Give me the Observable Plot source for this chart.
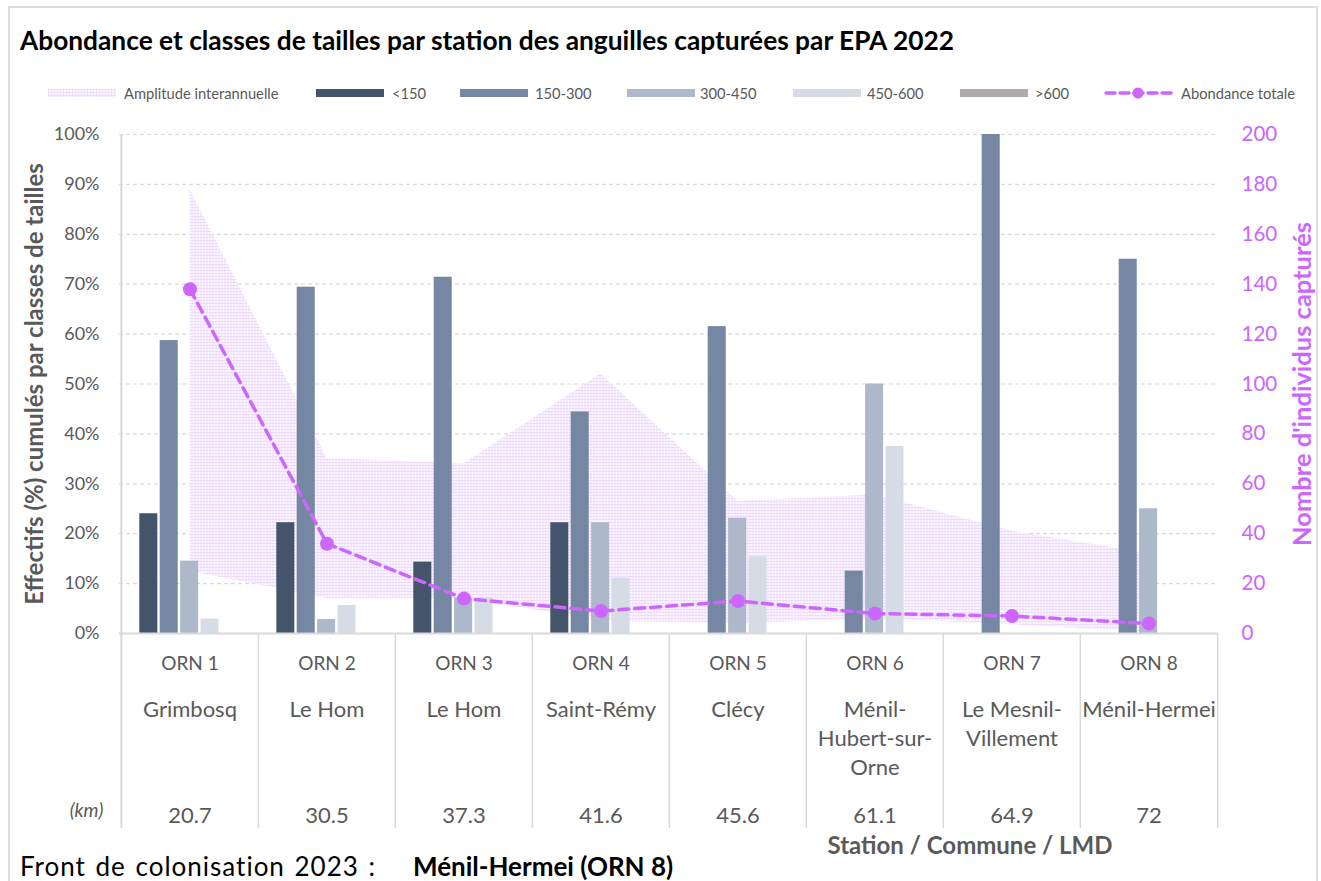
<!DOCTYPE html>
<html>
<head>
<meta charset="utf-8">
<script src="https://cdn.jsdelivr.net/npm/d3@7"></script>
<script src="https://cdn.jsdelivr.net/npm/@observablehq/plot@0.6"></script>
<style>
  body { margin: 0; background: #fff; font-family: Lato, "Open Sans", sans-serif; }
  #wrap { position: relative; width: 1321px; height: 881px; overflow: hidden; background: #fff; }
  #frame { position: absolute; left: 8px; top: 6px; width: 1310px; height: 900px; border: 2px solid #dedede; box-sizing: border-box; }
  .abs { position: absolute; white-space: nowrap; line-height: 1; }
  #title { left: 20px; top: 40px; transform: translateY(-50%); font-size: 26.3px; font-weight: 700; color: #000; }
  .lg { top: 93px; transform: translateY(-50%); font-size: 14.7px; color: #595959; }
  .sw { top: 89px; height: 8px; }
  #chart { position: absolute; left: 0; top: 120px; }
  #xtitle { left: 970px; top: 845px; transform: translate(-50%, -50%); font-size: 24px; font-weight: 700; color: #595959; }
  .foot { top: 866px; transform: translateY(-50%); font-size: 26px; color: #000; }
</style>
</head>
<body>
<div id="wrap">
  <div id="frame"></div>
  <div id="title" class="abs">Abondance et classes de tailles par station des anguilles capturées par EPA 2022</div>

  <svg class="abs sw" style="left:48px;width:68px;" width="68" height="8"><defs><pattern id="lgpat" width="3" height="3" patternUnits="userSpaceOnUse"><rect width="3" height="3" fill="#fdfaff"/><path d="M0 0.5H3M0.5 0V3" stroke="#eedbfd" stroke-width="1"/></pattern></defs><rect width="68" height="8" fill="url(#lgpat)"/></svg>
  <div class="abs lg" style="left:124px;">Amplitude interannuelle</div>
  <div class="abs sw" style="left:316px;width:68px;background:#44546A;"></div>
  <div class="abs lg" style="left:392px;">&lt;150</div>
  <div class="abs sw" style="left:460px;width:68px;background:#7587A2;"></div>
  <div class="abs lg" style="left:535px;">150-300</div>
  <div class="abs sw" style="left:627px;width:68px;background:#ADB9CA;"></div>
  <div class="abs lg" style="left:700px;">300-450</div>
  <div class="abs sw" style="left:793px;width:68px;background:#D6DCE5;"></div>
  <div class="abs lg" style="left:867px;">450-600</div>
  <div class="abs sw" style="left:960px;width:68px;background:#AEAAAA;"></div>
  <div class="abs lg" style="left:1035px;">&gt;600</div>
  <svg class="abs" style="left:1104px;top:86px;" width="72" height="14"><line x1="2" y1="7" x2="70" y2="7" stroke="#CC66FF" stroke-width="3.5" stroke-dasharray="9 5" stroke-linecap="round"/><circle cx="34" cy="7" r="5.5" fill="#CC66FF"/></svg>
  <div class="abs lg" style="left:1181px;">Abondance totale</div>

  <div id="chart"></div>

  <div id="xtitle" class="abs">Station / Commune / LMD</div>
  <div class="abs foot" style="left:20px;letter-spacing:1px;word-spacing:2px;">Front de colonisation 2023 :</div>
  <div class="abs foot" style="left:413px;font-weight:700;">Ménil-Hermei (ORN 8)</div>
</div>

<script>
// ---------- DATA ----------
const stations = ["ORN 1", "ORN 2", "ORN 3", "ORN 4", "ORN 5", "ORN 6", "ORN 7", "ORN 8"];
const communes = ["Grimbosq", "Le Hom", "Le Hom", "Saint-Rémy", "Clécy", "Ménil-\nHubert-sur-\nOrne", "Le Mesnil-\nVillement", "Ménil-Hermei"];
const lmdKm = ["20.7", "30.5", "37.3", "41.6", "45.6", "61.1", "64.9", "72"];

const sizeClasses = ["<150", "150-300", "300-450", "450-600", ">600"];
const pctLt150   = [24.0, 22.2, 14.3, 22.2, 0, 0, 0, 0];
const pct150_300 = [58.7, 69.4, 71.4, 44.4, 61.5, 12.5, 100, 75];
const pct300_450 = [14.5, 2.8, 7.1, 22.2, 23.1, 50, 0, 25];
const pct450_600 = [2.9, 5.6, 7.1, 11.1, 15.4, 37.5, 0, 0];
const pctGt600   = [0, 0, 0, 0, 0, 0, 0, 0];

const abondanceTotale = [138, 36, 14, 9, 13, 8, 7, 4];
const amplitudeMin = [25, 14, 14, 5, 4, 6, 3.5, 0.5];
const amplitudeMax = [178, 70, 68, 104, 53, 55.5, 41, 32];

const yTicksPct = [0, 10, 20, 30, 40, 50, 60, 70, 80, 90, 100];
const classColors = ["#44546A", "#7587A2", "#ADB9CA", "#D6DCE5", "#AEAAAA"];
const violet = "#CC66FF";

// ---------- LAYOUT ----------
const W = 1321, H = 711, mL = 119, mR = 103, mT = 14, mB = 198;
const bw = (W - mL - mR) / stations.length;
const plotH = H - mT - mB;

const series = [pctLt150, pct150_300, pct300_450, pct450_600, pctGt600];
const barMarks = series.map((vals, i) => {
  const data = stations.map((s, j) => ({station: s, cls: sizeClasses[i], v: vals[j]})).filter(d => d.v > 0);
  const left = 18.3 + 20.4 * i;
  return Plot.barY(data, {
    x: "station", y: "v", fill: classColors[i],
    insetLeft: left, insetRight: bw - left - 18.4
  });
});

const ampData = stations.map((s, j) => ({station: s, lo: amplitudeMin[j], hi: amplitudeMax[j]}));
const abData = stations.map((s, j) => ({station: s, n: abondanceTotale[j]}));
const communeData = stations.map((s, j) => ({station: s, t: communes[j]}));
const kmData = stations.map((s, j) => ({station: s, t: lmdKm[j]}));

const chart = Plot.plot({
  width: W, height: H,
  marginLeft: mL, marginRight: mR, marginTop: mT, marginBottom: mB,
  style: {fontFamily: "Lato, 'Open Sans', sans-serif", background: "transparent", overflow: "visible"},
  x: {type: "band", domain: stations, padding: 0, axis: null},
  y: {domain: [0, 100], axis: null, label: null},
  marks: [
    Plot.gridY(yTicksPct.slice(1), {stroke: "#d9d9d9", strokeOpacity: 1, strokeWidth: 1.2, strokeDasharray: "4 3"}),
    Plot.areaY(ampData, {x: "station", y1: d => d.lo / 2, y2: d => d.hi / 2, fill: "url(#ampPattern)"}),
    ...barMarks,
    Plot.ruleY([0], {stroke: "#d9d9d9", strokeWidth: 2}),
    Plot.ruleX([stations[0]], {dx: -bw / 2, stroke: "#d9d9d9", strokeWidth: 2, insetBottom: -195}),
    Plot.ruleX(stations.slice(1), {dx: -bw / 2, stroke: "#d9d9d9", strokeWidth: 1.5, insetTop: plotH, insetBottom: -195}),
    Plot.ruleX([stations[stations.length - 1]], {dx: bw / 2, stroke: "#d9d9d9", strokeWidth: 1.5, insetTop: plotH, insetBottom: -195}),
    Plot.line(abData, {x: "station", y: d => d.n / 2, stroke: violet, strokeWidth: 3.5, strokeDasharray: "10 6"}),
    Plot.dot(abData, {x: "station", y: d => d.n / 2, r: 7, fill: violet, stroke: "none"}),
    Plot.axisY(yTicksPct, {anchor: "left", tickSize: 0, tickPadding: 20, tickFormat: d => d + "%", fontSize: 18, color: "#595959", label: null}),
    Plot.axisY(yTicksPct, {anchor: "right", tickSize: 0, tickPadding: 23, tickFormat: d => String(d * 2), fontSize: 20.5, color: violet, label: null}),
    Plot.text(stations, {x: d => d, text: d => d, frameAnchor: "bottom", dy: 30, textAnchor: "middle", lineAnchor: "middle", fontSize: 19, fill: "#595959"}),
    Plot.text(communeData, {x: "station", text: "t", frameAnchor: "bottom", dy: 63, textAnchor: "middle", lineAnchor: "top", lineHeight: 1.32, fontSize: 22, fill: "#595959"}),
    Plot.text(kmData, {x: "station", text: "t", frameAnchor: "bottom", dy: 182, textAnchor: "middle", lineAnchor: "middle", fontSize: 22, fill: "#595959"}),
    Plot.text(["(km)"], {text: d => d, frameAnchor: "bottom-left", dx: -33, dy: 177, textAnchor: "middle", lineAnchor: "middle", fontStyle: "italic", fontSize: 19, fill: "#595959"}),
    Plot.text(["Effectifs (%) cumulés par classes de tailles"], {text: d => d, frameAnchor: "left", dx: -84, rotate: -90, textAnchor: "middle", lineAnchor: "middle", fontWeight: "bold", fontSize: 24, fill: "#595959"}),
    Plot.text(["Nombre d'individus capturés"], {text: d => d, frameAnchor: "right", dx: 84, rotate: -90, textAnchor: "middle", lineAnchor: "middle", fontWeight: "bold", fontSize: 25.5, fill: violet})
  ]
});

// pattern for the interannual amplitude area
const defs = d3.select(chart).insert("defs", ":first-child");
const pat = defs.append("pattern").attr("id", "ampPattern").attr("width", 3).attr("height", 3).attr("patternUnits", "userSpaceOnUse");
pat.append("rect").attr("width", 3).attr("height", 3).attr("fill", "#fdfaff");
pat.append("path").attr("d", "M0 0.5H3M0.5 0V3").attr("stroke", "#eedbfd").attr("stroke-width", 1);

document.getElementById("chart").appendChild(chart);
</script>
</body>
</html>
